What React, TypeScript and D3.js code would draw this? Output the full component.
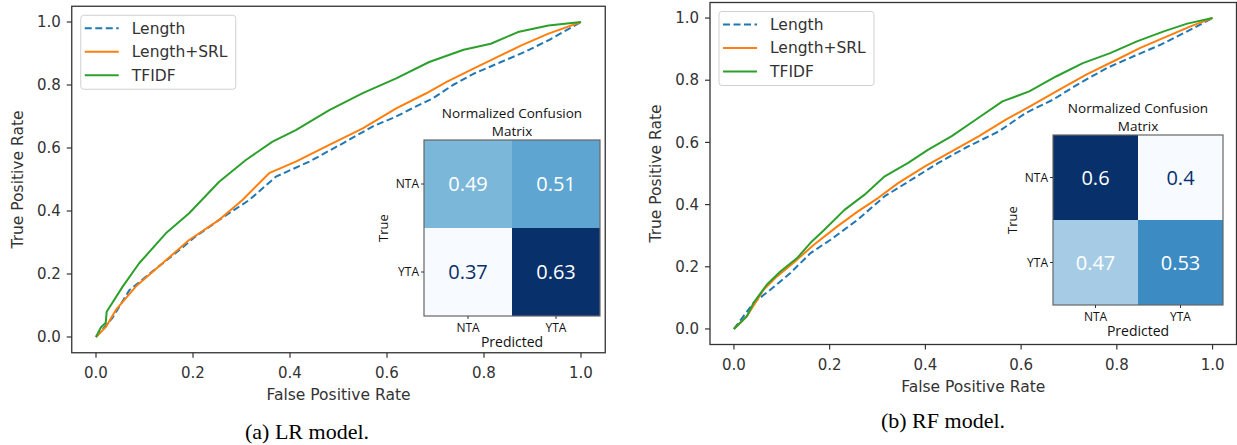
import React from 'react';
import * as d3 from 'd3';

// shared
const axisTicks = [0, 0.2, 0.4, 0.6, 0.8, 1.0];
const seriesNames = ['Length', 'Length+SRL', 'TFIDF'];
const seriesColors = ['#1f77b4', '#ff7f0e', '#2ca02c'];
const classes = ['NTA', 'YTA'];

// (a) LR model, ROC points
const lrLengthFpr = [0, 0.034, 0.069, 0.118, 0.172, 0.202, 0.254, 0.316, 0.371, 0.44, 0.509, 0.57, 0.619, 0.652, 0.694, 0.736, 0.779, 0.835, 0.884, 0.933, 1];
const lrLengthTpr = [0, 0.061, 0.149, 0.21, 0.276, 0.315, 0.372, 0.435, 0.509, 0.557, 0.615, 0.668, 0.7, 0.726, 0.757, 0.8, 0.836, 0.873, 0.905, 0.942, 1];
const lrSrlFpr = [0, 0.021, 0.041, 0.082, 0.137, 0.192, 0.254, 0.302, 0.357, 0.412, 0.481, 0.55, 0.619, 0.68, 0.723, 0.772, 0.828, 0.877, 0.933, 1];
const lrSrlTpr = [0, 0.033, 0.086, 0.16, 0.234, 0.308, 0.372, 0.435, 0.52, 0.557, 0.61, 0.662, 0.726, 0.773, 0.81, 0.847, 0.889, 0.926, 0.963, 1];
const lrTfidfFpr = [0, 0.01, 0.02, 0.022, 0.055, 0.089, 0.144, 0.192, 0.254, 0.309, 0.364, 0.412, 0.481, 0.55, 0.619, 0.687, 0.758, 0.814, 0.87, 0.933, 1];
const lrTfidfTpr = [0, 0.03, 0.045, 0.08, 0.16, 0.234, 0.329, 0.393, 0.493, 0.562, 0.62, 0.657, 0.72, 0.774, 0.821, 0.873, 0.912, 0.931, 0.968, 0.989, 1];
const lrMatrix = [[0.49, 0.51], [0.37, 0.63]];

// (b) RF model
const rfLengthFpr = [0, 0.041, 0.076, 0.118, 0.16, 0.202, 0.259, 0.315, 0.371, 0.427, 0.483, 0.554, 0.61, 0.666, 0.723, 0.779, 0.835, 0.891, 0.947, 1];
const rfLengthTpr = [0, 0.084, 0.126, 0.18, 0.244, 0.287, 0.352, 0.427, 0.48, 0.534, 0.582, 0.636, 0.695, 0.737, 0.791, 0.839, 0.877, 0.914, 0.957, 1];
const rfSrlFpr = [0, 0.027, 0.062, 0.09, 0.132, 0.167, 0.216, 0.259, 0.301, 0.343, 0.399, 0.455, 0.512, 0.568, 0.624, 0.68, 0.736, 0.793, 0.849, 0.905, 0.954, 1];
const rfSrlTpr = [0, 0.041, 0.126, 0.169, 0.223, 0.271, 0.33, 0.378, 0.421, 0.469, 0.523, 0.571, 0.62, 0.673, 0.721, 0.77, 0.818, 0.861, 0.904, 0.941, 0.973, 1];
const rfTfidfFpr = [0, 0.027, 0.041, 0.069, 0.097, 0.132, 0.16, 0.189, 0.231, 0.273, 0.315, 0.364, 0.406, 0.455, 0.505, 0.561, 0.617, 0.673, 0.729, 0.786, 0.842, 0.898, 0.947, 1];
const rfTfidfTpr = [0, 0.041, 0.084, 0.143, 0.185, 0.228, 0.277, 0.319, 0.383, 0.432, 0.491, 0.534, 0.577, 0.62, 0.673, 0.732, 0.764, 0.812, 0.855, 0.887, 0.925, 0.957, 0.982, 1];
const rfMatrix = [[0.6, 0.4], [0.47, 0.53]];

const font = 'DejaVu Sans, sans-serif';
const cmFont = 'Open Sans, sans-serif';
const fmt = d3.format('.1f');

type Series = { fpr: number[]; tpr: number[] };

function Panel({ frame, series, matrix, cm, caption }: any) {
  const x = d3.scaleLinear().domain([-0.05, 1.05]).range([frame.x0, frame.x1]);
  const y = d3.scaleLinear().domain([-0.05, 1.05]).range([frame.y1, frame.y0]);
  const line = d3.line<number[]>()
    .x(d => x(d[0]))
    .y(d => y(d[1]));

  const band = d3.scaleBand().domain(classes).range([0, cm.size]);
  const flat = matrix.flat();
  const lo = d3.min(flat) as number;
  const hi = d3.max(flat) as number;
  const color = d3.scaleSequential(d3.interpolateBlues).domain([lo, hi]);
  const mid = (cl: string) => (band(cl) as number) + band.bandwidth() / 2;

  const lg = { x: frame.x0 + 9, y: frame.y0 + 9 };

  return (
    <g>
      {/* ROC curves */}
      {series.map((s: Series, i: number) => (
        <path key={i}
          d={line(s.fpr.map((f, k) => [f, s.tpr[k]])) || ''}
          fill="none"
          stroke={seriesColors[i]}
          strokeWidth={2}
          strokeLinejoin="round"
          strokeDasharray={i === 0 ? '7,3.5' : undefined} />
      ))}

      {/* frame */}
      <rect x={frame.x0} y={frame.y0} width={frame.x1 - frame.x0} height={frame.y1 - frame.y0}
        fill="none" stroke="#333" strokeWidth={1.3} />

      {/* x axis */}
      {axisTicks.map(t => (
        <g key={'x' + t}>
          <line x1={x(t)} x2={x(t)} y1={frame.y1} y2={frame.y1 + 5} stroke="#333" strokeWidth={1.2} />
          <text x={x(t)} y={frame.y1 + 25} textAnchor="middle" fontSize={15} fill="#333" fontFamily={font}>{fmt(t)}</text>
        </g>
      ))}
      {/* y axis */}
      {axisTicks.map(t => (
        <g key={'y' + t}>
          <line x1={frame.x0 - 5} x2={frame.x0} y1={y(t)} y2={y(t)} stroke="#333" strokeWidth={1.2} />
          <text x={frame.x0 - 11} y={y(t)} dy="0.35em" textAnchor="end" fontSize={15} fill="#333" fontFamily={font}>{fmt(t)}</text>
        </g>
      ))}
      <text x={(frame.x0 + frame.x1) / 2} y={frame.y1 + 47} textAnchor="middle" fontSize={15.5} fill="#333" fontFamily={font}>False Positive Rate</text>
      <text transform={`translate(${frame.x0 - 54},${(frame.y0 + frame.y1) / 2}) rotate(-90)`} dy="0.35em"
        textAnchor="middle" fontSize={15.5} fill="#333" fontFamily={font}>True Positive Rate</text>

      {/* legend */}
      <rect x={lg.x} y={lg.y} width={155} height={74} rx={3} fill="#fff" fillOpacity={0.85} stroke="#d0d0d0" />
      {seriesNames.map((n, i) => (
        <g key={n} transform={`translate(${lg.x},${lg.y + 13 + i * 23.5})`}>
          <line x1={4} x2={38} y1={0} y2={0} stroke={seriesColors[i]} strokeWidth={2}
            strokeDasharray={i === 0 ? '7,3.5' : undefined} />
          <text x={51} y={0} dy="0.35em" fontSize={15.5} fill="#333" fontFamily={font}>{n}</text>
        </g>
      ))}

      {/* confusion matrix inset */}
      <g transform={`translate(${cm.x},${cm.y})`} fontFamily={cmFont}>
        {matrix.map((row: number[], r: number) => row.map((v, c) => {
          const t = (v - lo) / (hi - lo);
          return (
            <g key={r + '-' + c}>
              <rect x={band(classes[c])} y={band(classes[r])} width={band.bandwidth()} height={band.bandwidth()} fill={color(v)} />
              <text x={mid(classes[c])} y={mid(classes[r])}
                dy="0.36em" textAnchor="middle" fontSize={20} fill={t < 0.3 ? '#08306b' : '#ffffff'}>{String(v)}</text>
            </g>
          );
        }))}
        <rect x={0} y={0} width={cm.size} height={cm.size} fill="none" stroke="#666" strokeWidth={1.2} />
        {classes.map(cl => (
          <g key={'r' + cl}>
            <line x1={-3} x2={0} y1={mid(cl)} y2={mid(cl)} stroke="#333" />
            <text x={-5} y={mid(cl)} dy="0.35em" textAnchor="end" fontSize={12} fill="#111">{cl}</text>
            <line y1={cm.size} y2={cm.size + 3} x1={mid(cl)} x2={mid(cl)} stroke="#333" />
            <text x={mid(cl)} y={cm.size + 16} textAnchor="middle" fontSize={12} fill="#111">{cl}</text>
          </g>
        ))}
        <text x={cm.size / 2} y={cm.size + 31} textAnchor="middle" fontSize={14} fill="#111">Predicted</text>
        <text transform={`translate(-41,${cm.size / 2}) rotate(-90)`} textAnchor="middle" dy="0.35em" fontSize={13} fill="#111">True</text>
        <text x={cm.size / 2} y={-22} textAnchor="middle" fontSize={13.5} fill="#111">Normalized Confusion</text>
        <text x={cm.size / 2} y={-4} textAnchor="middle" fontSize={13.5} fill="#111">Matrix</text>
      </g>

      <text x={caption.x} y={caption.y} textAnchor="middle" fontSize={22} fill="#000" fontFamily="Liberation Serif, serif">{caption.text}</text>
    </g>
  );
}

export default function App() {
  const lrSeries = [
    { fpr: lrLengthFpr, tpr: lrLengthTpr },
    { fpr: lrSrlFpr, tpr: lrSrlTpr },
    { fpr: lrTfidfFpr, tpr: lrTfidfTpr },
  ];
  const rfSeries = [
    { fpr: rfLengthFpr, tpr: rfLengthTpr },
    { fpr: rfSrlFpr, tpr: rfSrlTpr },
    { fpr: rfTfidfFpr, tpr: rfTfidfTpr },
  ];
  return (
    <div style={{ position: 'absolute', left: 0, top: 0 }}>
      <svg width={1237} height={445} viewBox="0 0 1237 445" style={{ display: 'block', background: '#fff' }}>
        <Panel
          frame={{ x0: 71.75, x1: 605.25, y0: 6.25, y1: 352.75 }}
          series={lrSeries}
          matrix={lrMatrix}
          cm={{ x: 424, y: 140, size: 176 }}
          caption={{ x: 307, y: 439, text: '(a) LR model.' }} />
        <Panel
          frame={{ x0: 710, x1: 1236.5, y0: 2.5, y1: 344.5 }}
          series={rfSeries}
          matrix={rfMatrix}
          cm={{ x: 1053, y: 135, size: 170 }}
          caption={{ x: 943, y: 428, text: '(b) RF model.' }} />
      </svg>
    </div>
  );
}
